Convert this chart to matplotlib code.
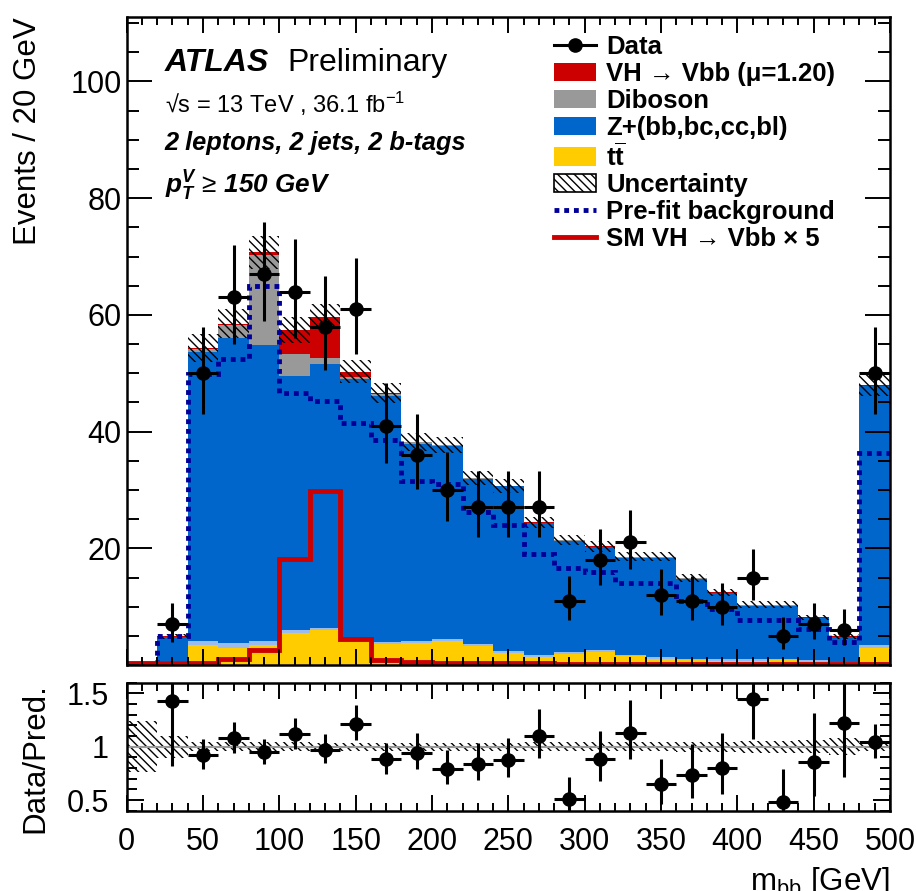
import numpy as np
import matplotlib
matplotlib.use("Agg")
import matplotlib.pyplot as plt
from matplotlib.patches import Patch
from matplotlib.lines import Line2D
from matplotlib.ticker import MultipleLocator

# ------------------------------
# Fonts
# ------------------------------
plt.rcParams["font.family"] = ["Liberation Sans", "DejaVu Sans"]
plt.rcParams["mathtext.fontset"] = "custom"
plt.rcParams["mathtext.rm"] = "Liberation Sans"
plt.rcParams["mathtext.it"] = "Liberation Sans:italic"
plt.rcParams["mathtext.bf"] = "Liberation Sans:bold"
plt.rcParams["mathtext.bfit"] = "Liberation Sans:italic:bold"
plt.rcParams["hatch.linewidth"] = 1.0

# ------------------------------
# Data (m_bb bins of 20 GeV, 0-500)
# ------------------------------
edges = np.arange(0, 520, 20)
centers = edges[:-1] + 10

ttbar   = [0.1, 0.6, 3.4, 3.0, 3.5, 5.5, 6.0, 4.0, 3.6, 3.8, 4.2, 3.3, 2.1,
           1.4, 1.9, 2.3, 1.5, 1.1, 0.8, 0.7, 0.7, 0.8, 0.6, 0.4, 3.0]
z_light = [0.0, 0.1, 0.7, 0.7, 0.7, 0.5, 0.4, 0.4, 0.4, 0.3, 0.3, 0.3, 0.3,
           0.3, 0.3, 0.3, 0.3, 0.3, 0.3, 0.3, 0.3, 0.3, 0.3, 0.2, 0.4]
z_hf    = [0.15, 4.15, 49.6, 52.4, 50.7, 43.5, 45.2, 44.6, 42.1, 33.7, 33.1, 28.3, 28.2,
           22.6, 19.1, 17.6, 16.6, 17.0, 13.7, 11.3, 9.2, 9.1, 7.1, 4.2, 44.4]
diboson = [0.0, 0.0, 0.5, 2.2, 15.3, 3.8, 1.0, 0.4, 0.3, 0.4, 0.1, 0.1, 0.1,
           0.1, 0.1, 0.1, 0.1, 0.1, 0.1, 0.1, 0.1, 0.1, 0.1, 0.05, 0.1]
vh      = [0.0, 0.05, 0.1, 0.2, 0.5, 4.1, 7.1, 0.9, 0.15, 0.05, 0.05, 0.05, 0.05,
           0.05, 0.05, 0.05, 0.05, 0.05, 0.05, 0.05, 0.05, 0.05, 0.05, 0.05, 0.05]
unc     = [0.06, 0.5, 2.4, 2.5, 2.8, 2.3, 2.2, 1.9, 1.7, 1.5, 1.4, 1.2, 1.2,
           1.0, 0.9, 0.9, 0.8, 0.8, 0.7, 0.6, 0.6, 0.6, 0.5, 0.4, 1.8]
prefit  = [0.1, 4.9, 49.9, 52.5, 65.0, 46.6, 45.2, 41.5, 38.6, 31.6, 31.0, 26.3, 24.0,
           19.0, 16.7, 15.9, 14.1, 14.1, 11.0, 9.6, 7.7, 7.7, 6.1, 4.0, 36.3]
sm_vh_x5 = [0.3, 0.3, 0.4, 1.0, 2.6, 18.2, 29.8, 4.5, 0.8, 0.5, 0.4, 0.3, 0.3,
            0.3, 0.2, 0.2, 0.2, 0.2, 0.2, 0.2, 0.2, 0.2, 0.2, 0.2, 0.2]
data    = [0, 7, 50, 63, 67, 64, 58, 61, 41, 36, 30, 27, 27,
           27, 11, 18, 21, 12, 11, 10, 15, 5, 7, 6, 50]
data_up = [0, 3.7, 8.0, 9.0, 9.0, 9.0, 8.6, 8.8, 7.3, 7.0, 6.5, 6.2, 6.2,
           6.2, 4.3, 5.3, 5.6, 4.4, 4.3, 4.1, 4.9, 3.2, 3.7, 3.6, 8.0]
data_dn = [0, 3.0, 7.0, 8.0, 8.0, 8.0, 7.5, 7.7, 6.3, 5.8, 5.4, 5.1, 5.1,
           5.1, 3.3, 4.2, 4.6, 3.4, 3.3, 3.1, 3.9, 2.2, 2.6, 2.5, 7.0]

ttbar, z_light, z_hf, diboson, vh = map(np.array, (ttbar, z_light, z_hf, diboson, vh))
unc, data = np.array(unc), np.array(data, dtype=float)
data_up, data_dn = np.array(data_up), np.array(data_dn)

C_VH = "#cc0000"
C_DIB = "#999999"
C_ZHF = "#0066cc"
C_ZL = "#99bbee"
C_TT = "#ffcc00"
C_PRE = "#000099"

# ------------------------------
# Figure
# ------------------------------
fig = plt.figure(figsize=(9.16, 8.91), dpi=100)
ax = fig.add_axes([0.1383, 0.2536, 0.8333, 0.727])
rax = fig.add_axes([0.1383, 0.0901, 0.8333, 0.1437])

# stacked backgrounds + signal
bottom = np.zeros(len(centers))
for vals, col in [(ttbar, C_TT), (z_light, C_ZL), (z_hf, C_ZHF),
                  (diboson, C_DIB), (vh, C_VH)]:
    ax.stairs(bottom + vals, edges, baseline=bottom, fill=True,
              facecolor=col, edgecolor="none", linewidth=0)
    bottom = bottom + vals
total = bottom

# uncertainty band
ax.stairs(total + unc, edges, baseline=total - unc, fill=True,
          facecolor="none", edgecolor="black", hatch="\\\\\\\\", linewidth=0)

# pre-fit background and SM signal x5
ax.stairs(prefit, edges, baseline=None, color=C_PRE, linewidth=3.5,
          linestyle=(0, (1, 1)))
ax.stairs(sm_vh_x5, edges, baseline=None, color=C_VH, linewidth=3.5)

# data
m = data > 0
ax.errorbar(centers[m], data[m], yerr=[data_dn[m], data_up[m]], xerr=10,
            fmt="o", color="black", ms=9.5, elinewidth=2.2, capsize=0)

ax.set_xlim(0, 500)
ax.set_ylim(0, 111)

# ------------------------------
# Ratio panel
# ------------------------------
rel = unc / total
rax.stairs(1 + rel, edges, baseline=1 - rel, fill=True,
           facecolor="none", edgecolor="black", hatch="\\\\\\\\", linewidth=0)
rax.axhline(1, color="#999999", linewidth=1.5)
ratio = data / total
rax.errorbar(centers[m], ratio[m], yerr=[data_dn[m] / total[m], data_up[m] / total[m]],
             xerr=10, fmt="o", color="black", ms=9.5, elinewidth=2.2, capsize=0)
rax.set_xlim(0, 500)
rax.set_ylim(0.4, 1.6)

# ------------------------------
# Ticks / labels
# ------------------------------
for a in (ax, rax):
    for s in a.spines.values():
        s.set_linewidth(1.8)
    a.xaxis.set_major_locator(MultipleLocator(50))
    a.xaxis.set_minor_locator(MultipleLocator(10))
    a.tick_params(which="both", direction="in", top=True, right=True, width=1.4)
    a.tick_params(axis="x", which="major", length=11.5, labelsize=22, pad=11.5)
    a.tick_params(axis="x", which="minor", length=5.5)

ax.set_yticks([20, 40, 60, 80, 100])
ax.yaxis.set_minor_locator(MultipleLocator(5))
ax.tick_params(axis="y", which="major", length=18, labelsize=22, pad=3.6)
ax.tick_params(axis="y", which="minor", length=8.6)
ax.tick_params(axis="x", labelbottom=False)

rax.set_yticks([0.5, 1, 1.5])
rax.set_yticklabels(["0.5", "1", "1.5"])
rax.yaxis.set_minor_locator(MultipleLocator(0.1))
rax.tick_params(axis="y", which="major", length=12, labelsize=22, pad=13)
rax.tick_params(axis="y", which="minor", length=7)

ax.set_ylabel("Events / 20 GeV", fontsize=22.5, loc="top")
ax.yaxis.set_label_coords(-0.109, 1.0)
rax.set_ylabel("Data/Pred.", fontsize=22.5, loc="top")
rax.yaxis.set_label_coords(-0.100, 1.0)
rax.set_xlabel(r"m$_{\rm bb}$ [GeV]", fontsize=22.5, loc="right")
rax.xaxis.set_label_coords(1.0, -0.424)

# ------------------------------
# ATLAS labels
# ------------------------------
ax.text(0.05, 0.929, "ATLAS", transform=ax.transAxes, fontsize=23,
        fontweight="bold", fontstyle="italic", va="center")
ax.text(0.211, 0.929, "Preliminary", transform=ax.transAxes, fontsize=23, va="center")
ax.text(0.05, 0.866, r"√s = 13 TeV , 36.1 fb$^{-1}$", transform=ax.transAxes,
        fontsize=17, va="center")
ax.text(0.05, 0.806, "2 leptons, 2 jets, 2 b-tags", transform=ax.transAxes,
        fontsize=18.3, fontweight="bold", fontstyle="italic", va="center")
ax.text(0.05, 0.739, r"$\mathbfit{p}_{\mathbfit{T}}^{\mathbfit{V}}$ ≥ $\mathbfit{150\ GeV}$",
        transform=ax.transAxes, fontsize=18.8, va="center")

# ------------------------------
# Legend
# ------------------------------
handles = [
    Line2D([], [], color="black", marker="o", ms=9.5, linewidth=2.2),
    Patch(facecolor=C_VH),
    Patch(facecolor=C_DIB),
    Patch(facecolor=C_ZHF),
    Patch(facecolor=C_TT),
    Patch(facecolor="white", edgecolor="black", hatch="\\\\\\\\", linewidth=1.2),
    Line2D([], [], color=C_PRE, linewidth=3.5, linestyle=(0, (1, 1))),
    Line2D([], [], color=C_VH, linewidth=3.5),
]
labels = [
    "Data",
    "VH → Vbb (μ=1.20)",
    "Diboson",
    "Z+(bb,bc,cc,bl)",
    r"$\mathbf{t}\overline{\mathbf{t}}$",
    "Uncertainty",
    "Pre-fit background",
    "SM VH → Vbb × 5",
]
leg = ax.legend(handles, labels, loc="upper left", bbox_to_anchor=(0.536, 1.0),
                frameon=False, prop={"weight": "bold", "size": 18.5},
                handlelength=1.65, handleheight=0.72, handletextpad=0.4,
                labelspacing=0.11, borderaxespad=0.3)

fig.savefig("out.png", dpi=100)
